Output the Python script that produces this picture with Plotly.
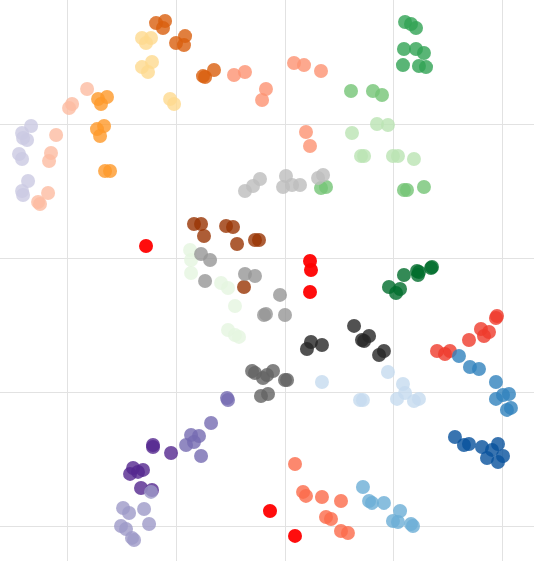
import plotly.graph_objects as go

# cluster coordinates (embedding space), one pair of lists per group
dark_orange_x = [-11.88, -11.05, -11.24, -10.04, -9.21, -9.31, -7.56, -7.37, -6.55]
dark_orange_y = [17.53, 17.68, 17.16, 16.04, 16.56, 15.89, 13.58, 13.51, 14.03]

pale_yellow_x = [-13.17, -12.34, -12.80, -13.17, -12.25, -12.62, -10.59, -10.22]
pale_yellow_y = [16.42, 16.42, 16.04, 14.25, 14.63, 13.88, 11.87, 11.50]

orange_x = [-17.21, -16.39, -16.94, -17.31, -16.66, -17.03, -16.57, -16.11]
orange_y = [11.87, 12.02, 11.50, 9.63, 9.86, 9.11, 6.51, 6.51]

peach_x = [-18.22, -19.60, -19.88, -21.07, -21.54, -21.72, -21.81, -22.55, -22.73]
peach_y = [12.62, 11.50, 11.20, 9.19, 7.85, 7.25, 4.87, 4.05, 4.20]

lavender_x = [-23.37, -24.20, -23.74, -24.11, -24.48, -24.20, -23.65, -24.20, -24.11]
lavender_y = [9.86, 9.34, 8.82, 8.96, 7.77, 7.40, 5.76, 5.01, 4.72]

salmon_x = [-4.71, -3.70, -1.77, -2.13, 0.81, 1.73, 3.29, 1.91, 2.28]
salmon_y = [13.66, 13.88, 12.62, 11.80, 14.55, 14.40, 13.96, 9.41, 8.37]

green_x = [11.02, 11.57, 12.03, 10.92, 12.03, 12.76, 10.83, 12.30, 12.95]
green_y = [17.61, 17.46, 17.16, 15.60, 15.60, 15.30, 14.40, 14.33, 14.25]

mid_green_x = [6.05, 8.07, 8.90, 3.29, 3.75, 10.92, 11.20, 12.76]
mid_green_y = [12.47, 12.47, 12.17, 5.24, 5.31, 5.09, 5.09, 5.31]

light_green_x = [6.14, 6.97, 7.25, 8.44, 9.45, 9.91, 10.37, 11.84]
light_green_y = [9.34, 7.62, 7.62, 10.01, 9.93, 7.62, 7.62, 7.40]

light_grey_x = [-3.70, -2.96, -2.32, 0.07, -0.20, 0.63, 1.36, 3.02, 3.48]
light_grey_y = [5.01, 5.39, 5.91, 6.13, 5.31, 5.46, 5.46, 5.98, 6.21]

red_x = [-12.80, 2.28, 2.37, 2.28, -1.40, 0.90]
red_y = [0.92, -0.20, -0.87, -2.51, -18.83, -20.69]

brown_x = [-8.39, -7.74, -7.47, -5.44, -4.80, -4.43, -2.78, -2.41, -3.79]
brown_y = [2.56, 2.56, 1.66, 2.41, 2.33, 1.07, 1.36, 1.36, -2.14]

mint_x = [-8.75, -8.66, -8.66, -5.90, -5.26, -4.62, -5.26, -4.62, -4.25]
mint_y = [0.62, -0.13, -1.10, -1.84, -2.21, -3.55, -5.34, -5.72, -5.86]

grey_x = [-7.74, -6.91, -7.37, -3.70, -2.78, -0.48, -1.95, -1.77, -0.02]
grey_y = [0.32, -0.13, -1.69, -1.17, -1.32, -2.73, -4.23, -4.15, -4.23]

black_x = [6.33, 7.71, 7.06, 7.25, 2.00, 2.37, 3.38, 8.63, 9.08]
black_y = [-5.04, -5.79, -6.09, -6.16, -6.76, -6.24, -6.46, -7.21, -6.91]

dark_green_x = [9.54, 10.19, 10.56, 10.92, 12.12, 12.21, 12.30, 13.41, 13.50]
dark_green_y = [-2.14, -2.59, -2.29, -1.24, -0.95, -1.24, -1.02, -0.72, -0.65]

scarlet_x = [13.96, 14.69, 15.15, 16.90, 18.00, 18.28, 18.74, 19.38, 19.48]
scarlet_y = [-6.91, -7.13, -6.91, -6.09, -5.27, -5.79, -5.49, -4.45, -4.30]

blue_x = [15.98, 16.99, 17.82, 19.38, 19.38, 20.03, 20.58, 20.39, 20.76]
blue_y = [-7.28, -8.10, -8.25, -9.22, -10.48, -10.19, -10.11, -11.30, -11.15]

pale_blue_x = [3.38, 9.45, 10.83, 11.02, 6.88, 7.15, 10.28, 11.84, 12.30]
pale_blue_y = [-9.22, -8.47, -9.37, -10.04, -10.56, -10.56, -10.48, -10.63, -10.48]

navy_x = [15.61, 16.44, 16.90, 18.10, 18.56, 19.02, 19.57, 19.57, 20.03]
navy_y = [-13.32, -13.91, -13.84, -14.06, -14.88, -14.28, -13.84, -15.18, -14.73]

sky_x = [7.15, 7.71, 7.98, 9.08, 10.56, 9.91, 10.37, 11.57, 11.75]
sky_y = [-17.04, -18.09, -18.23, -18.23, -18.83, -19.58, -19.65, -19.80, -19.95]

coral_x = [0.90, 1.64, 1.91, 3.38, 5.13, 3.75, 4.21, 5.13, 5.77]
coral_y = [-15.33, -17.41, -17.71, -17.79, -18.09, -19.28, -19.43, -20.32, -20.47]

purple_x = [-5.35, -5.26, -6.82, -8.66, -7.93, -9.12, -8.39, -7.74]
purple_y = [-10.41, -10.56, -12.27, -13.17, -13.24, -13.91, -13.69, -14.73]

dark_purple_x = [-12.16, -12.16, -10.50, -14.27, -13.99, -13.54, -13.08, -13.26, -12.25]
dark_purple_y = [-13.91, -14.06, -14.51, -16.07, -15.63, -15.92, -15.77, -17.12, -17.27]

light_purple_x = [-12.34, -14.91, -14.36, -12.98, -12.52, -15.10, -14.64, -14.09, -13.90]
light_purple_y = [-17.41, -18.61, -18.98, -18.68, -19.80, -19.95, -20.17, -20.84, -20.99]

dark_grey_x = [-3.05, -2.78, -2.04, -1.67, -1.12, -0.02, 0.17, -2.23, -1.58]
dark_grey_y = [-8.40, -8.55, -8.92, -8.70, -8.40, -9.07, -9.07, -10.26, -10.11]

groups = [
    (dark_orange_x, dark_orange_y, '#d95f0e', 0.8),
    (pale_yellow_x, pale_yellow_y, '#fed98e', 0.8),
    (orange_x, orange_y, '#fe9929', 0.8),
    (peach_x, peach_y, '#fcbba1', 0.8),
    (lavender_x, lavender_y, '#cbc9e2', 0.8),
    (salmon_x, salmon_y, '#fc9272', 0.8),
    (green_x, green_y, '#31a354', 0.8),
    (mid_green_x, mid_green_y, '#74c476', 0.8),
    (light_green_x, light_green_y, '#bae4b3', 0.8),
    (light_grey_x, light_grey_y, '#bdbdbd', 0.8),
    (brown_x, brown_y, '#993404', 0.8),
    (mint_x, mint_y, '#e5f5e0', 0.8),
    (grey_x, grey_y, '#969696', 0.8),
    (black_x, black_y, '#252525', 0.8),
    (dark_green_x, dark_green_y, '#006d2c', 0.8),
    (scarlet_x, scarlet_y, '#ef3b2c', 0.8),
    (blue_x, blue_y, '#3182bd', 0.8),
    (pale_blue_x, pale_blue_y, '#c6dbef', 0.8),
    (navy_x, navy_y, '#08519c', 0.8),
    (sky_x, sky_y, '#6baed6', 0.8),
    (coral_x, coral_y, '#fb6a4a', 0.8),
    (purple_x, purple_y, '#756bb1', 0.8),
    (dark_purple_x, dark_purple_y, '#54278f', 0.8),
    (light_purple_x, light_purple_y, '#9e9ac8', 0.8),
    (dark_grey_x, dark_grey_y, '#636363', 0.8),
    (red_x, red_y, '#ff0000', 0.95),
]

fig = go.Figure()
for xs, ys, col, alpha in groups:
    fig.add_trace(
        go.Scatter(
            x=xs, y=ys,
            mode='markers',
            marker={'color': col, 'size': 14, 'opacity': alpha,
                    'line': {'width': 0}},
            showlegend=False,
            hoverinfo='skip'
        )
    )

axis_style = dict(
    showgrid=True,
    gridcolor='#e2e2e2',
    gridwidth=1,
    zeroline=False,
    showline=False,
    ticks='',
    showticklabels=False,
    dtick=10,
    tick0=0,
)

fig.update_layout(
    width=534,
    height=561,
    margin={'l': 0, 'r': 0, 't': 0, 'b': 0},
    paper_bgcolor='white',
    plot_bgcolor='white',
    xaxis=dict(range=[-26.23, 22.88], **axis_style),
    yaxis=dict(range=[-22.56, 19.25], **axis_style),
    hovermode=False,
)

# drop the page's default body margin so the plot sits flush in the window
fig.write_html("out.html", config={'displayModeBar': False},
               post_script="document.body.style.margin='0';")
